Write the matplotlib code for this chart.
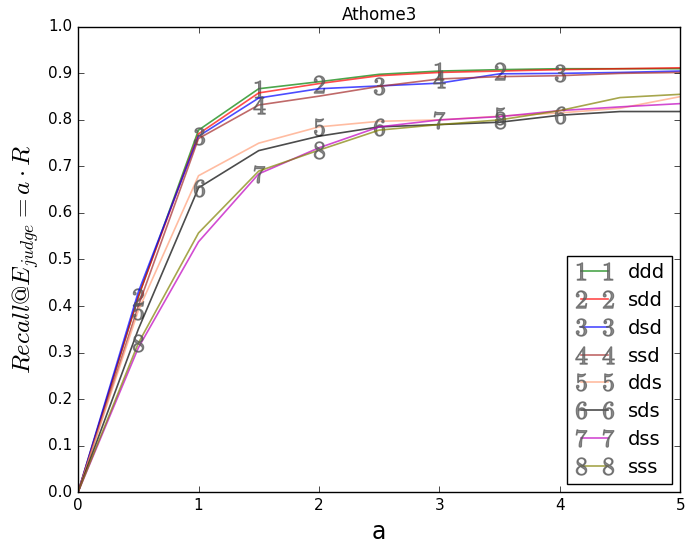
import numpy as np
import matplotlib
matplotlib.use('Agg')
import matplotlib.pyplot as plt

plt.style.use('classic')

# x values (a) and recall curves for each config
a = [0, 0.5, 1, 1.5, 2, 2.5, 3, 3.5, 4, 4.5, 5]
ddd = [0.0, 0.42, 0.778, 0.867, 0.882, 0.898, 0.905, 0.908, 0.910, 0.910, 0.910]
sdd = [0.0, 0.42, 0.770, 0.858, 0.878, 0.895, 0.902, 0.905, 0.908, 0.910, 0.912]
dsd = [0.0, 0.43, 0.765, 0.847, 0.867, 0.873, 0.879, 0.899, 0.900, 0.902, 0.905]
ssd = [0.0, 0.40, 0.760, 0.832, 0.851, 0.872, 0.888, 0.893, 0.895, 0.900, 0.902]
dds = [0.0, 0.39, 0.680, 0.750, 0.785, 0.797, 0.800, 0.808, 0.815, 0.825, 0.850]
sds = [0.0, 0.35, 0.654, 0.734, 0.765, 0.785, 0.790, 0.795, 0.810, 0.818, 0.818]
dss = [0.0, 0.31, 0.538, 0.684, 0.740, 0.785, 0.800, 0.807, 0.820, 0.828, 0.835]
sss = [0.0, 0.32, 0.557, 0.690, 0.735, 0.778, 0.790, 0.800, 0.820, 0.848, 0.855]

series = [ddd, sdd, dsd, ssd, dds, sds, dss, sss]
names = ['ddd', 'sdd', 'dsd', 'ssd', 'dds', 'sds', 'dss', 'sss']
colors = ['g', 'r', 'b', 'brown', 'lightsalmon', 'k', 'm', 'olive']
marks = [[3, 6], [1, 4, 7], [2, 5, 8], [3, 6], [1, 4, 7], [2, 5, 8], [3, 6], [1, 4, 7]]

fig = plt.figure(figsize=(6.85, 5.48), dpi=100, facecolor='white')
ax = fig.add_axes([0.114, 0.102, 0.879, 0.849])
ax.set_facecolor('white')

for i, (ys, nm, c, mk) in enumerate(zip(series, names, colors, marks)):
    ax.plot(a, ys, color=c, alpha=0.7, lw=1.2,
            marker='$%d$' % (i + 1), markersize=12.5, markevery=mk,
            markerfacecolor='0.35', markeredgecolor='0.35', markeredgewidth=0.8,
            label=nm)

ax.set_xlim(0, 5)
ax.set_ylim(0, 1.0)
ax.set_xticks([0, 1, 2, 3, 4, 5])
ax.set_yticks(np.arange(0, 1.01, 0.1))
ax.tick_params(labelsize=11)
ax.set_title('Athome3', fontsize=12)
ax.set_xlabel('a', fontsize=17)
ax.set_ylabel(r'$Recall@E_{judge}=a\cdot R$', fontsize=18)
ax.legend(loc='lower right', numpoints=2, fontsize=14, handlelength=2.0,
          borderaxespad=0.4, labelspacing=0.45, handletextpad=0.7)

plt.savefig('out.png', dpi=100, facecolor='white')
